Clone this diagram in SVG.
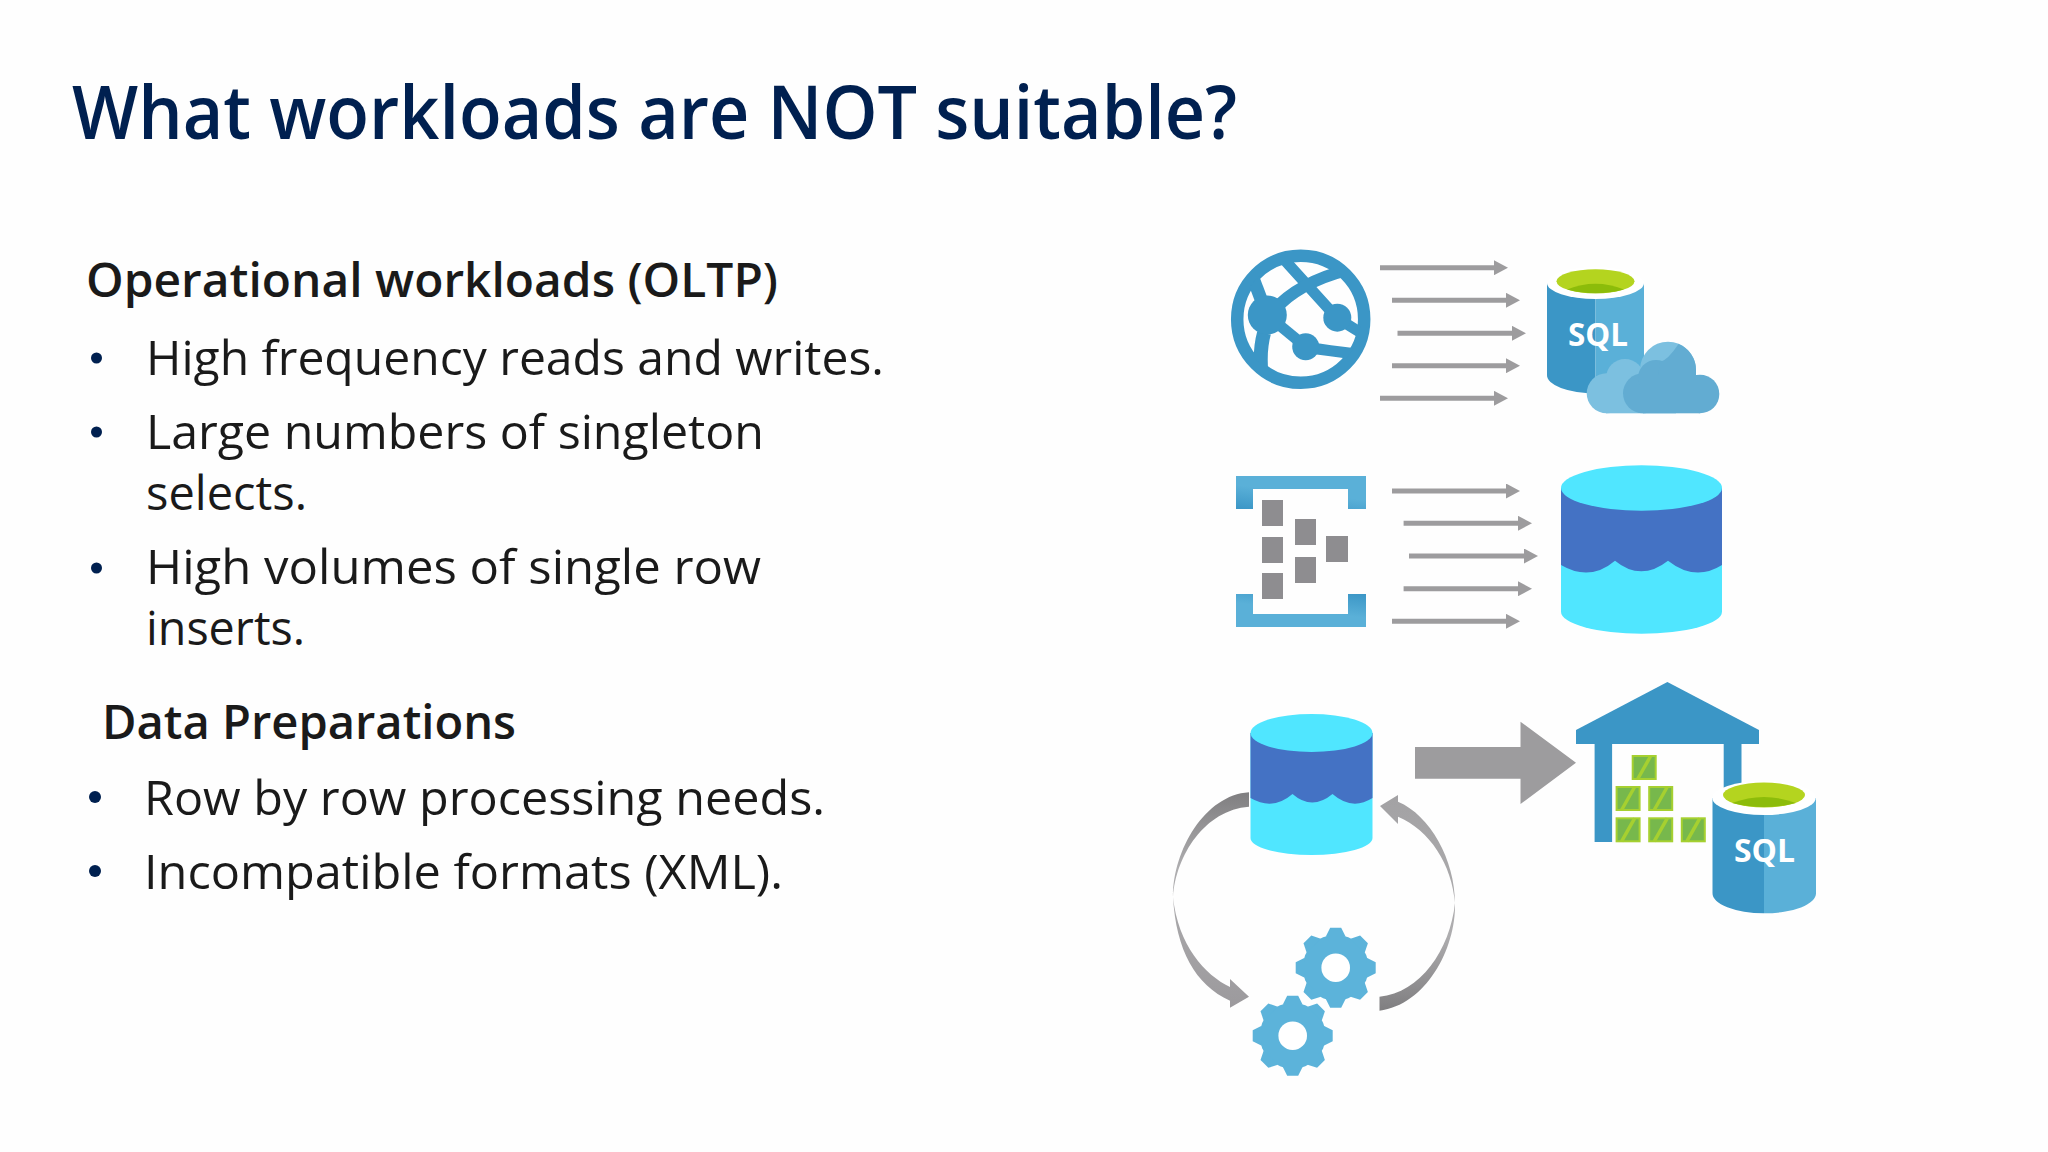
<svg xmlns="http://www.w3.org/2000/svg" xmlns:xlink="http://www.w3.org/1999/xlink" width="2048" height="1152" viewBox="0 0 2048 1152">
<style>
text{font-family:"Open Sans","Noto Sans","Liberation Sans",sans-serif}
.title{font-size:75px;font-weight:600;fill:#002050}
.head{font-size:47px;font-weight:600;fill:#1a1a1a}
.body{font-size:48px;font-weight:400;fill:#1a1a1a}
.bullet{fill:#002050}
.sql{font-size:33px;font-weight:700;fill:#fff}
.azure{fill:#3b96c6}
.azlight{fill:#5ab0d8}
.cyan{fill:#50e6ff}
.blue{fill:#4472c4}
.grey{fill:#8e8d90}
.flow{stroke:#9d9c9e;stroke-width:5;fill:none;marker-end:url(#head)}
.curve{stroke:none}
</style>
<defs>
<marker id="head" markerUnits="userSpaceOnUse" markerWidth="14" markerHeight="15" refX="0" refY="7.5" orient="auto"><path d="M0,0 L14,7.5 L0,15 Z" fill="#9d9c9e"/></marker>
<linearGradient id="brTop" x1="0" y1="1" x2="0.28" y2="0.4"><stop offset="0" stop-color="#3b96c6"/><stop offset="1" stop-color="#5ab0d8"/></linearGradient>
<linearGradient id="brBot" x1="1" y1="0" x2="0.72" y2="0.6"><stop offset="0" stop-color="#3b96c6"/><stop offset="1" stop-color="#5ab0d8"/></linearGradient>
<linearGradient id="curveL" gradientUnits="userSpaceOnUse" x1="0" y1="792" x2="0" y2="1008"><stop offset="0" stop-color="#7f7e80"/><stop offset="0.35" stop-color="#aeadaf"/><stop offset="1" stop-color="#9c9a9d"/></linearGradient>
<linearGradient id="curveR" gradientUnits="userSpaceOnUse" x1="0" y1="1011" x2="0" y2="795"><stop offset="0" stop-color="#7f7e80"/><stop offset="0.35" stop-color="#aeadaf"/><stop offset="1" stop-color="#a3a2a4"/></linearGradient>
<clipPath id="globeClip"><circle cx="1300.7" cy="319.3" r="60"/></clipPath>
<path id="tooth" d="M-10,-31 L-5.5,-40 L5.5,-40 L10,-31 Z" fill="#5cb3da"/>
<g id="gear">
<circle r="33" fill="#5cb3da"/>
<use xlink:href="#tooth" href="#tooth"/>
<use xlink:href="#tooth" href="#tooth" transform="rotate(45)"/>
<use xlink:href="#tooth" href="#tooth" transform="rotate(90)"/>
<use xlink:href="#tooth" href="#tooth" transform="rotate(135)"/>
<use xlink:href="#tooth" href="#tooth" transform="rotate(180)"/>
<use xlink:href="#tooth" href="#tooth" transform="rotate(225)"/>
<use xlink:href="#tooth" href="#tooth" transform="rotate(270)"/>
<use xlink:href="#tooth" href="#tooth" transform="rotate(315)"/>
<circle r="14.3" fill="#fff"/>
</g>
<g id="crate">
<rect x="1" y="1" width="23" height="23" fill="#77b84c" stroke="#a6d030" stroke-width="2"/>
<path d="M6,24 L19,1" stroke="#a6d030" stroke-width="3.5" fill="none"/>
</g>
</defs>
<rect width="2048" height="1152" fill="#fefefe"/>
<g id="text">
<text class="title" x="72" y="139" textLength="1165" lengthAdjust="spacingAndGlyphs">What workloads are NOT suitable?</text>
<text class="head" x="86" y="297" textLength="692" lengthAdjust="spacingAndGlyphs">Operational workloads (OLTP)</text>
<circle class="bullet" cx="96.5" cy="358" r="5.5"/>
<text class="body" x="146" y="375" textLength="738" lengthAdjust="spacingAndGlyphs">High frequency reads and writes.</text>
<circle class="bullet" cx="96.5" cy="432" r="5.5"/>
<text class="body" x="146" y="449" textLength="618" lengthAdjust="spacingAndGlyphs">Large numbers of singleton</text>
<text class="body" x="146" y="510" textLength="161" lengthAdjust="spacingAndGlyphs">selects.</text>
<circle class="bullet" cx="96.5" cy="568" r="5.5"/>
<text class="body" x="146" y="584" textLength="615" lengthAdjust="spacingAndGlyphs">High volumes of single row</text>
<text class="body" x="146" y="645" textLength="159" lengthAdjust="spacingAndGlyphs">inserts.</text>
<text class="head" x="102" y="739" textLength="414" lengthAdjust="spacingAndGlyphs">Data Preparations</text>
<circle class="bullet" cx="95" cy="797" r="6"/>
<text class="body" x="144" y="815" textLength="681" lengthAdjust="spacingAndGlyphs">Row by row processing needs.</text>
<circle class="bullet" cx="95" cy="871" r="6"/>
<text class="body" x="144" y="889" textLength="639" lengthAdjust="spacingAndGlyphs">Incompatible formats (XML).</text>
</g>
<g id="web-app">
<circle cx="1300.7" cy="319.3" r="63.5" fill="none" stroke="#3b96c6" stroke-width="12.5"/>
<g fill="none" stroke="#3b96c6" clip-path="url(#globeClip)">
<path d="M1253,278 L1267,315" stroke-width="13"/>
<path d="M1280,255 L1337,318 L1366,336" stroke-width="11"/>
<path d="M1280,304 Q1310,276 1366,266" stroke-width="12"/>
<path d="M1267,315 L1306,347" stroke-width="11"/>
<path d="M1305,347 Q1330,351 1366,355" stroke-width="11"/>
<path d="M1264,333 Q1258,355 1263,385" stroke-width="14"/>
</g>
<circle class="azure" cx="1267.3" cy="315" r="19.5"/>
<circle class="azure" cx="1337.3" cy="317.7" r="14"/>
<circle class="azure" cx="1305.7" cy="346.7" r="13.5"/>
</g>
<g id="sql-cloud">
<path class="azure" d="M1547,283 V375 A48.5,18 0 0 0 1595.5,393.3 V283 Z"/>
<path class="azlight" d="M1595.5,283 V393.3 A48.5,18 0 0 0 1644,375 V283 Z"/>
<ellipse cx="1595.5" cy="283" rx="48.5" ry="16" fill="#fff"/>
<ellipse cx="1595.5" cy="281.3" rx="39" ry="12" fill="#b4d41f"/>
<path d="M1567,289.5 Q1595.5,278 1624,289.5 Q1595.5,297 1567,289.5 Z" fill="#8cbc0a"/>
<text class="sql" x="1568" y="346" textLength="60" lengthAdjust="spacingAndGlyphs">SQL</text>
<g fill="#7cc0e0">
<circle cx="1606.7" cy="393.3" r="20"/>
<circle cx="1625" cy="378" r="19"/>
<circle cx="1668" cy="369.7" r="28"/>
<rect x="1606" y="375" width="70" height="38.3"/>
</g>
<g fill="#62acd2">
<circle cx="1643" cy="393.3" r="20"/>
<circle cx="1656" cy="378" r="18"/>
<path d="M1678.5,344 A28,28 0 0 1 1696,369.7 L1696,400 L1655,400 L1660,362 Q1668,360 1678.5,344 Z"/>
<circle cx="1700" cy="394" r="19.3"/>
<rect x="1643" y="375" width="57" height="38.3"/>
</g>
</g>
<g id="event-hub">
<path fill="url(#brTop)" d="M1236,476 H1366 V509 H1348 V489 H1253 V509 H1236 Z"/>
<path fill="url(#brBot)" d="M1236,627 H1366 V594 H1348 V614 H1253 V594 H1236 Z"/>
<rect class="grey" x="1262" y="500" width="21" height="26"/>
<rect class="grey" x="1262" y="537" width="21" height="26"/>
<rect class="grey" x="1262" y="573" width="21" height="26"/>
<rect class="grey" x="1295" y="519" width="21" height="26"/>
<rect class="grey" x="1295" y="557" width="21" height="26"/>
<rect class="grey" x="1326" y="536" width="22" height="26"/>
</g>
<g id="data-lake">
<path class="cyan" d="M1561,488 V611.7 A80.5,22 0 0 0 1722,611.7 V488 Z"/>
<path class="blue" d="M1561,488 V565 Q1590,582 1615,560.7 Q1641,582 1668,560.7 Q1695,582 1722,565 V488 Z"/>
<ellipse class="cyan" cx="1641.5" cy="488" rx="80.5" ry="22.7"/>
</g>
<g id="data-lake-small">
<path class="cyan" d="M1250.5,733 V838 A61,17 0 0 0 1372.5,838 V733 Z"/>
<path class="blue" d="M1250.5,733 V798 Q1273,811 1292.5,794 Q1312,811 1332.5,794 Q1352,811 1372.5,798 V733 Z"/>
<ellipse class="cyan" cx="1311.5" cy="733" rx="61" ry="19"/>
</g>
<g id="gears">
<use xlink:href="#gear" href="#gear" x="1335.7" y="967.7"/>
<use xlink:href="#gear" href="#gear" x="1292.7" y="1035.7"/>
</g>
<g id="warehouse">
<path class="azure" d="M1667.4,682 L1759,730 V744 H1576 V730 Z"/>
<rect class="azure" x="1594.6" y="743" width="17.5" height="99"/>
<rect class="azure" x="1723.7" y="743" width="17.8" height="60"/>
<use xlink:href="#crate" href="#crate" transform="translate(1631.7 755)"/>
<use xlink:href="#crate" href="#crate" transform="translate(1615.6 786)"/>
<use xlink:href="#crate" href="#crate" transform="translate(1648.2 786)"/>
<use xlink:href="#crate" href="#crate" transform="translate(1615.6 817.3)"/>
<use xlink:href="#crate" href="#crate" transform="translate(1648.2 817.3)"/>
<use xlink:href="#crate" href="#crate" transform="translate(1680.8 817.3)"/>
</g>
<g id="sql-warehouse">
<path class="azure" d="M1712.5,798 V893 A51.5,20 0 0 0 1764,913.3 V798 Z"/>
<path class="azlight" d="M1764,798 V913.3 A51.5,20 0 0 0 1816,893 V798 Z"/>
<ellipse cx="1764" cy="798" rx="51.7" ry="17" fill="#fff"/>
<ellipse cx="1764" cy="795" rx="41" ry="12.5" fill="#b4d41f"/>
<path d="M1732,803 Q1764,791 1796,803 Q1764,811 1732,803 Z" fill="#8cbc0a"/>
<text class="sql" x="1734" y="862" textLength="61" lengthAdjust="spacingAndGlyphs">SQL</text>
</g>
<g id="connectors">
<line class="flow" x1="1380" y1="267.7" x2="1494" y2="267.7"/>
<line class="flow" x1="1392" y1="300.3" x2="1506" y2="300.3"/>
<line class="flow" x1="1397.5" y1="333.3" x2="1512" y2="333.3"/>
<line class="flow" x1="1392" y1="365.7" x2="1506" y2="365.7"/>
<line class="flow" x1="1380" y1="398.3" x2="1494" y2="398.3"/>
<line class="flow" x1="1392" y1="491" x2="1506" y2="491"/>
<line class="flow" x1="1403.6" y1="523.3" x2="1518" y2="523.3"/>
<line class="flow" x1="1409" y1="556" x2="1524" y2="556"/>
<line class="flow" x1="1403.6" y1="588.7" x2="1518" y2="588.7"/>
<line class="flow" x1="1392" y1="621.3" x2="1506" y2="621.3"/>
<path id="big-arrow" d="M1415,747 H1520.5 V721.7 L1576,762.7 L1520.5,804 V778.7 H1415 Z" fill="#9d9c9e"/>
<path id="loop-left" class="curve" fill="url(#curveL)" d="M1249,792.3 C1205,795 1173,850 1173,897 C1176,950 1195,985 1230,1000.7 V1007.7 L1249,996.7 L1230,979 V987 C1205,975 1178,945 1173,897 C1176,855 1205,810 1249,806.7 Z"/>
<path id="loop-right" class="curve" fill="url(#curveR)" d="M1379.5,1010.7 C1425,1005 1456,950 1455,903 C1455,860 1430,815 1398,801.7 V795 L1380,806 L1398,824 V816.7 C1430,830 1452,865 1455,903 C1450,950 1420,993 1379.5,996.7 Z"/>
</g>
</svg>
